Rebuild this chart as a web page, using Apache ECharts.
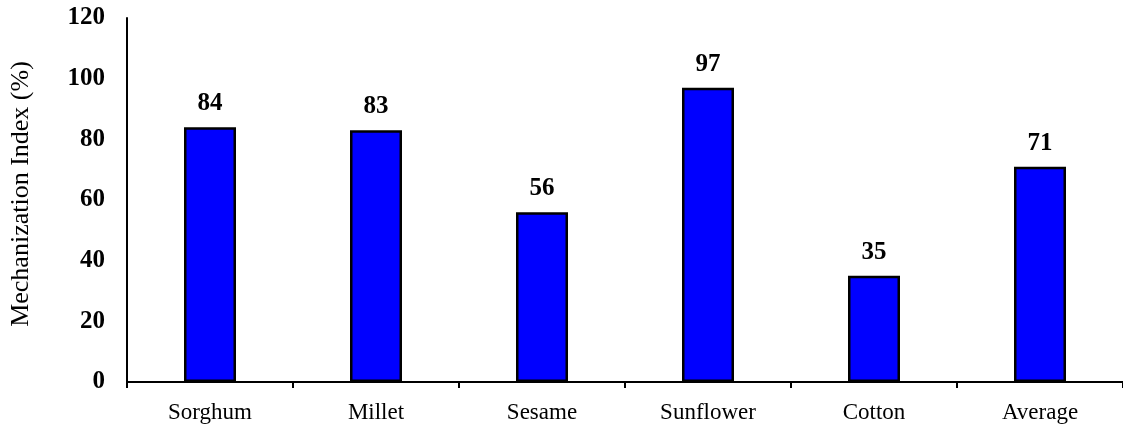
<!DOCTYPE html>
<html>
<head>
<meta charset="utf-8">
<script src="https://cdn.jsdelivr.net/npm/echarts@6/dist/echarts.min.js"></script>
<style>
  html, body { margin: 0; padding: 0; background: #fff; }
  #main { width: 1123px; height: 424px; }
</style>
</head>
<body>
<div id="main"></div>
<script>
var crops = ['Sorghum', 'Millet', 'Sesame', 'Sunflower', 'Cotton', 'Average'];
var mechIndex = [84, 83, 56, 97, 35, 71];
var yTicks = [0, 20, 40, 60, 80, 100, 120];

var font = "'Liberation Serif', 'Times New Roman', serif";
var myChart = echarts.init(document.getElementById('main'));

var option = {
    animation: false,
    grid: { left: 125, right: -8, top: 18, bottom: 42 },
    xAxis: {
        type: 'category',
        data: crops,
        axisLine: { lineStyle: { color: '#000', width: 2 } },
        axisTick: { show: true, length: 6, lineStyle: { color: '#000', width: 2 } },
        axisLabel: { color: '#000', fontFamily: font, fontSize: 23, margin: 19 }
    },
    yAxis: {
        type: 'value',
        min: yTicks[0],
        max: yTicks[yTicks.length - 1],
        interval: 20,
        name: 'Mechanization Index (%)',
        nameLocation: 'middle',
        nameGap: 93,
        nameTextStyle: { color: '#000', fontFamily: font, fontSize: 26, padding: [0, 0, 0, 12] },
        axisLine: { show: true, lineStyle: { color: '#000', width: 2 } },
        axisTick: { show: false },
        splitLine: { show: false },
        axisLabel: { color: '#000', fontFamily: font, fontSize: 25, fontWeight: 'bold', margin: 22 }
    },
    series: [{
        name: 'Mechanization Index',
        type: 'bar',
        data: mechIndex,
        barWidth: 52,
        itemStyle: { color: '#0000ff', borderColor: '#000', borderWidth: 2.5 },
        label: {
            show: true,
            position: 'top',
            distance: 11,
            color: '#000',
            fontFamily: font,
            fontSize: 25,
            fontWeight: 'bold'
        }
    }]
};
myChart.setOption(option);
</script>
</body>
</html>
